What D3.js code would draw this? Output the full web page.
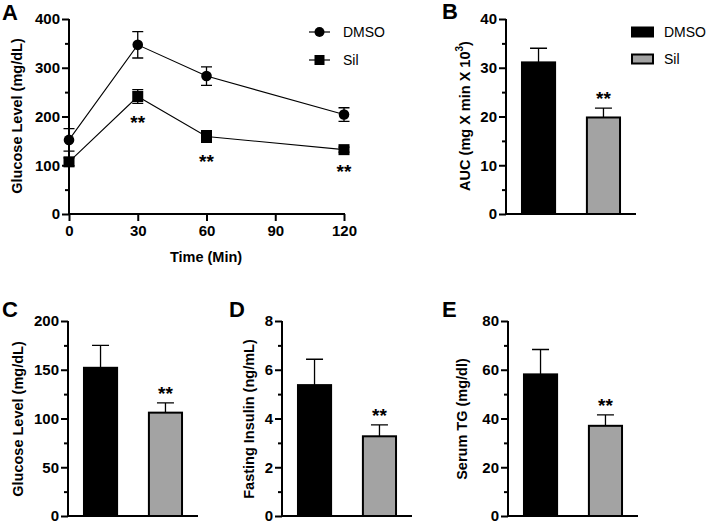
<!DOCTYPE html>
<html><head><meta charset="utf-8">
<script src="https://cdn.jsdelivr.net/npm/d3@7"></script>
<style>
body{margin:0;background:#fff;}
text{font-family:"Liberation Sans",Arial,sans-serif;}
</style></head>
<body><svg id="c" width="709" height="523"></svg>
<script>
// ---- data ----
const timePoints = [0, 30, 60, 120];
const timeTicks = [0, 30, 60, 90, 120];
const dmsoGlucose = [152, 347, 283, 204];
const dmsoGlucoseErr = [23, 27, 19, 14];
const silGlucose = [107, 241, 159, 132];
const silGlucoseErr = [8, 14, 12, 5];
const silSignif = [false, true, true, true];
const groups = ["DMSO", "Sil"];
const aucValues = [31.1, 19.8];
const aucErr = [2.9, 1.9];
const fastGlucose = [152, 106];
const fastGlucoseErr = [23, 10];
const insulin = [5.37, 3.27];
const insulinErr = [1.06, 0.47];
const serumTG = [58.1, 37.0];
const serumTGErr = [10.2, 4.5];
const groupFill = ["#000000", "#a3a3a3"];

const svg = d3.select("#c");
const FONT = '"Liberation Sans",Arial,sans-serif';

function yAxisDraw(g, y, x0, majors, minors){
  const ax = g.append("g").attr("transform", `translate(${x0},0)`)
    .call(d3.axisLeft(y).tickValues(majors).tickSize(7).tickPadding(2).tickFormat(d3.format("d")));
  ax.select(".domain").attr("stroke-width", 2).attr("d", `M0,${y.range()[0]+1}V${y.range()[1]}`);
  ax.selectAll(".tick line").attr("stroke-width", 2);
  ax.selectAll(".tick text").attr("font-size", 15).attr("font-weight", "bold").attr("font-family", FONT).attr("fill","#000");
  const mg = g.append("g").attr("transform", `translate(${x0},0)`)
    .call(d3.axisLeft(y).tickValues(minors).tickSize(4).tickFormat(""));
  mg.select(".domain").remove();
  mg.selectAll(".tick line").attr("stroke-width", 2);
}
function yTitle(g, x, yc, txt){
  return g.append("text").attr("transform", `translate(${x},${yc}) rotate(-90)`)
    .attr("text-anchor","middle").attr("dominant-baseline","central")
    .attr("font-size",14.5).attr("font-weight","bold").text(txt);
}
function letter(x, y, t){
  svg.append("text").attr("x",x).attr("y",y).attr("font-size",22).attr("font-weight","bold").text(t);
}
function stars(g, x, yc){
  g.append("text").attr("x",x).attr("y",yc+10).attr("text-anchor","middle")
    .attr("font-size",19).attr("font-weight","bold").text("**");
}

// ---- Panel A ----
{
  const g = svg.append("g");
  const x = d3.scaleLinear().domain([0,120]).range([69,344]);
  const y = d3.scaleLinear().domain([0,400]).range([214,19]);
  yAxisDraw(g, y, 69, [0,100,200,300,400], [50,150,250,350]);
  const xa = g.append("g").attr("transform","translate(0,214)")
    .call(d3.axisBottom(x).tickValues(timeTicks).tickSize(7).tickPadding(4));
  xa.select(".domain").attr("stroke-width",2).attr("d","M68,0H345");
  xa.selectAll(".tick line").attr("stroke-width",2);
  xa.selectAll(".tick text").attr("font-size",15).attr("font-weight","bold").attr("font-family",FONT).attr("fill","#000");
  g.append("text").attr("x",206).attr("y",262).attr("text-anchor","middle")
    .attr("font-size",14.5).attr("font-weight","bold").text("Time (Min)");
  yTitle(g, 17, 116, "Glucose Level (mg/dL)");
  const line = d3.line().x((d,i)=>x(timePoints[i])).y(d=>y(d));
  [[dmsoGlucose,dmsoGlucoseErr,"circle"],[silGlucose,silGlucoseErr,"square"]].forEach(([vals,errs,shape])=>{
    g.append("path").attr("d", line(vals)).attr("fill","none").attr("stroke","#000").attr("stroke-width",1.1);
    vals.forEach((v,i)=>{
      const cx = x(timePoints[i]);
      const e = errs[i];
      g.append("path").attr("d",`M${cx},${y(v+e)}V${y(v-e)}M${cx-5.5},${y(v+e)}H${cx+5.5}M${cx-5.5},${y(v-e)}H${cx+5.5}`)
        .attr("stroke","#000").attr("stroke-width",1.3).attr("fill","none");
      if(shape==="circle") g.append("circle").attr("cx",cx).attr("cy",y(v)).attr("r",5.3).attr("fill","#000");
      else g.append("rect").attr("x",cx-5.5).attr("y",y(v)-5.5).attr("width",11).attr("height",11).attr("fill","#000");
    });
  });
  silGlucose.forEach((v,i)=>{ if(silSignif[i]) stars(g, x(timePoints[i]), y(v - silGlucoseErr[i]) + 16); });
  // legend
  const leg = [["DMSO","circle",32],["Sil","square",60]];
  leg.forEach(([t,s,ly])=>{
    g.append("line").attr("x1",309).attr("x2",330).attr("y1",ly).attr("y2",ly).attr("stroke","#000").attr("stroke-width",1.2);
    if(s==="circle") g.append("circle").attr("cx",319.5).attr("cy",ly).attr("r",5).attr("fill","#000");
    else g.append("rect").attr("x",314.5).attr("y",ly-5).attr("width",10).attr("height",10).attr("fill","#000");
    g.append("text").attr("x",343).attr("y",ly).attr("dominant-baseline","central").attr("font-size",14).text(t);
  });
  letter(2, 20, "A");
}

// ---- bar panels ----
function barPanel(opts){
  const g = svg.append("g");
  const x = d3.scaleBand().domain(groups).range([opts.x0, opts.x0+130]).paddingInner(0.49).paddingOuter(0.246);
  const y = d3.scaleLinear().domain([0, opts.max]).range([opts.bottom, opts.top]);
  opts.vals.forEach((v,i)=>{
    const bx = x(groups[i]), bw = x.bandwidth(), cx = bx + bw/2;
    const e = opts.errs[i];
    g.append("path").attr("d",`M${cx},${y(v)}V${y(v+e)}M${cx-8.5},${y(v+e)}H${cx+8.5}`)
      .attr("stroke", "#000").attr("stroke-width",1.3).attr("fill","none");
    g.append("rect").attr("x",bx).attr("y",y(v)).attr("width",bw).attr("height",opts.bottom-y(v))
      .attr("fill",groupFill[i]).attr("stroke","#000").attr("stroke-width",2);
    if(i===1) stars(g, cx, y(v+e) - 13);
  });
  yAxisDraw(g, y, opts.x0, opts.majors, opts.minors);
  g.append("path").attr("d",`M${opts.x0-1},${opts.bottom}H${opts.x0+130}`).attr("stroke","#000").attr("stroke-width",2);
  return g;
}

// B
{
  const g = barPanel({x0:506, top:19, bottom:214, max:40, vals:aucValues, errs:aucErr,
    majors:[0,10,20,30,40], minors:[5,15,25,35]});
  const t = g.append("text").attr("transform","translate(465,116) rotate(-90)")
    .attr("text-anchor","middle").attr("dominant-baseline","central")
    .attr("font-size",14.5).attr("font-weight","bold");
  t.append("tspan").text("AUC (mg X min X 10");
  t.append("tspan").attr("font-size",10).attr("dy",-6).text("3");
  t.append("tspan").attr("dy",6).text(")");
  groups.forEach((gr,i)=>{
    const ly = [32,59][i];
    g.append("rect").attr("x",632).attr("y",ly-4.5).attr("width",21).attr("height",9)
      .attr("fill",groupFill[i]).attr("stroke","#000").attr("stroke-width",2);
    g.append("text").attr("x",664).attr("y",ly).attr("dominant-baseline","central").attr("font-size",14).text(gr);
  });
  letter(442, 19, "B");
}
// C
{
  const g = barPanel({x0:68, top:321, bottom:516, max:200, vals:fastGlucose, errs:fastGlucoseErr,
    majors:[0,50,100,150,200], minors:[25,75,125,175]});
  yTitle(g, 18, 419, "Glucose Level (mg/dL)");
  letter(2, 317, "C");
}
// D
{
  const g = barPanel({x0:282, top:321, bottom:516, max:8, vals:insulin, errs:insulinErr,
    majors:[0,2,4,6,8], minors:[1,3,5,7]});
  yTitle(g, 249, 419, "Fasting Insulin (ng/mL)");
  letter(229, 317, "D");
}
// E
{
  const g = barPanel({x0:508, top:321, bottom:516, max:80, vals:serumTG, errs:serumTGErr,
    majors:[0,20,40,60,80], minors:[10,30,50,70]});
  yTitle(g, 462, 419, "Serum TG (mg/dl)");
  letter(442, 317, "E");
}
</script></body></html>
